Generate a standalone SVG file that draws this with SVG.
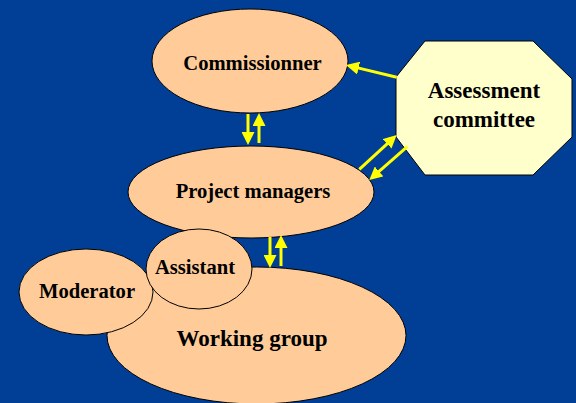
<svg xmlns="http://www.w3.org/2000/svg" width="576" height="403" viewBox="0 0 576 403">
  <style>
    .role { fill: #ffcc99; stroke: #000; stroke-width: 1; }
    .board { fill: #ffffcc; stroke: #000; stroke-width: 1; }
    .lbl { font-family: "Liberation Serif", "Times New Roman", serif; font-weight: bold; fill: #000; text-anchor: middle; }
    .s { font-size: 20.6px; }
    .l { font-size: 23px; }
    .flow { stroke: #ffff00; stroke-width: 3; fill: none; marker-end: url(#head); }
  </style>
  <defs>
    <marker id="head" viewBox="0 0 13 13" markerUnits="userSpaceOnUse" markerWidth="13" markerHeight="13" refX="3" refY="6.5" orient="auto">
      <path d="M0,0 L13,6.5 L0,13 z" fill="#ffff00"/>
    </marker>
  </defs>

  <rect x="0" y="0" width="576" height="403" fill="#013f96"/>

  <g id="commissionner">
    <ellipse class="role" cx="250" cy="61" rx="98" ry="52"/>
    <text class="lbl s" x="252.5" y="70">Commissionner</text>
  </g>

  <g id="assessment-committee">
    <polygon class="board" points="425,41 533,41 572,79 572,137 533,175 425,175 396,137 396,77"/>
    <text class="lbl l" x="484" y="98">Assessment</text>
    <text class="lbl l" x="484" y="127">committee</text>
  </g>

  <g id="project-managers">
    <ellipse class="role" cx="251" cy="192" rx="123" ry="46"/>
    <text class="lbl s" x="253" y="198">Project managers</text>
  </g>

  <g id="working-group">
    <ellipse class="role" cx="256.5" cy="335.5" rx="149.5" ry="68.5"/>
    <text class="lbl l" x="252" y="346">Working group</text>
  </g>

  <g id="moderator">
    <ellipse class="role" cx="86" cy="292" rx="67" ry="43"/>
    <text class="lbl s" x="87" y="298">Moderator</text>
  </g>

  <g id="assistant">
    <ellipse class="role" cx="199" cy="269" rx="53" ry="40"/>
    <text class="lbl s" x="195" y="274">Assistant</text>
  </g>

  <g id="connectors">
    <line class="flow" x1="248" y1="114" x2="248" y2="135"/>
    <line class="flow" x1="259" y1="143" x2="259" y2="123"/>
    <line class="flow" x1="270" y1="237" x2="270" y2="258"/>
    <line class="flow" x1="281" y1="266" x2="281" y2="245"/>
    <line class="flow" x1="396.7" y1="77.3" x2="355.7" y2="67.4"/>
    <line class="flow" x1="359.3" y1="169.3" x2="389.3" y2="141.8"/>
    <line class="flow" x1="407.3" y1="146.7" x2="376.8" y2="173.4"/>
  </g>
</svg>
